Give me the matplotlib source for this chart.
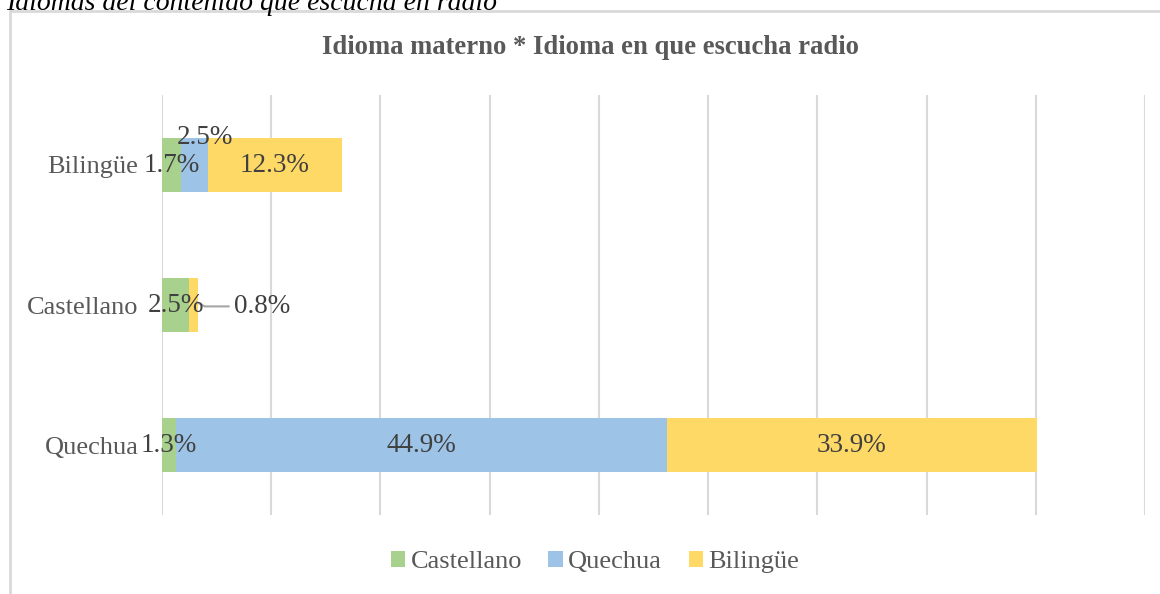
import matplotlib.pyplot as plt
from matplotlib.patches import Rectangle

# Data (percent), rows bottom to top
categories = ['Quechua', 'Castellano', 'Bilingüe']
series_names = ['Castellano', 'Quechua', 'Bilingüe']
castellano = [1.3, 2.5, 1.7]
quechua = [44.9, 0.0, 2.5]
bilingue = [33.9, 0.8, 12.3]
colors = ['#A9D18E', '#9DC3E6', '#FFD966']

plt.rcParams['font.family'] = ['Liberation Serif', 'DejaVu Serif']

fig = plt.figure(figsize=(11.6, 5.94), dpi=100)
ax = fig.add_axes([162 / 1160, 1 - 515 / 594, (1145 - 162) / 1160, (515 - 95) / 594])

# chart border (cut on right and bottom like the screenshot)
fig.patches.append(Rectangle((10 / 1160, -0.05), 1.1, 1 - 11 / 594 + 0.05,
                             transform=fig.transFigure, fill=False,
                             edgecolor='#D9D9D9', linewidth=2, clip_on=False))

y = list(range(len(categories)))
left = [0.0] * len(categories)
bars = []
for name, vals, col in zip(series_names, [castellano, quechua, bilingue], colors):
    b = ax.barh(y, vals, left=left, height=0.39, color=col, label=name, zorder=3)
    bars.append(b)
    left = [l + v for l, v in zip(left, vals)]

lab_kw = dict(fontsize=19.5, color='#404040', ha='center', va='center', zorder=5)
for si, vals in enumerate([castellano, quechua, bilingue]):
    for ci, v in enumerate(vals):
        if v == 0:
            continue
        rect = bars[si][ci]
        cx = rect.get_x() + rect.get_width() / 2
        cy = rect.get_y() + rect.get_height() / 2
        txt = f'{v:.1f}%'
        if categories[ci] == 'Bilingüe' and series_names[si] == 'Quechua':
            ax.text(cx + 1.0, cy + 0.2, txt, **lab_kw)
        elif categories[ci] == 'Castellano' and series_names[si] == 'Bilingüe':
            end = rect.get_x() + rect.get_width()
            # leader line to the label placed outside
            ax.plot([end - 0.1, end + 0.6, 6.1], [cy + 0.02, cy - 0.01, cy - 0.01],
                    color='#A6A6A6', lw=1.5, zorder=4)
            ax.text(9.2, cy - 0.01, txt, **lab_kw)
        else:
            ax.text(cx, cy, txt, **lab_kw)

ax.set_xlim(0, 90)
ax.set_ylim(-0.5, 2.5)
ax.set_xticks(range(0, 91, 10))
ax.set_xticklabels([])
ax.tick_params(axis='x', length=0)
ax.tick_params(axis='y', length=0, labelsize=19, labelcolor='#595959', pad=17)
ax.set_yticks(y)
ax.set_yticklabels(categories)
ax.grid(axis='x', color='#D9D9D9', linewidth=1.5, zorder=0)
for s in ax.spines.values():
    s.set_visible(False)

fig.text(591 / 1160, 1 - 47 / 594, 'Idioma materno * Idioma en que escucha radio',
         ha='center', va='center', fontsize=19.2, fontweight='bold', color='#595959')
fig.text(6 / 1160, 1 - 10 / 594, 'Idiomas del contenido que escucha en radio',
         ha='left', va='baseline', fontsize=20, style='italic', color='black')

ax.legend(loc='center', bbox_to_anchor=(595 / 1160, 1 - 562 / 594),
          bbox_transform=fig.transFigure, ncol=3, frameon=False, fontsize=19,
          labelcolor='#595959', handlelength=0.55, handleheight=0.55,
          handletextpad=0.2, columnspacing=1.0)

fig.savefig('out.png', dpi=100)
